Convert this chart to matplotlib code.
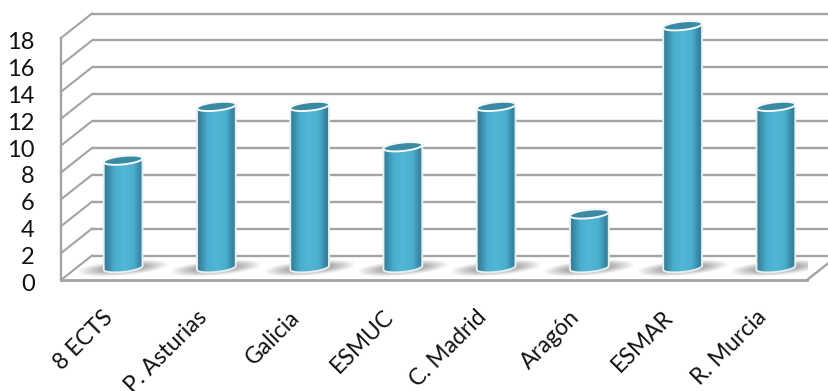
import matplotlib
matplotlib.use('Agg')
import matplotlib.pyplot as plt
import numpy as np
from matplotlib.colors import LinearSegmentedColormap
from matplotlib.patches import Polygon
from matplotlib.transforms import ScaledTranslation

categories = ['8 ECTS', 'P. Asturias', 'Galicia', 'ESMUC', 'C. Madrid', 'Aragón', 'ESMAR', 'R. Murcia']
values = [8, 12, 12, 9, 12, 4, 18, 12]
y_ticks = [0, 2, 4, 6, 8, 10, 12, 14, 16, 18]

W, H = 829, 391
plt.rcParams['font.family'] = ['Lato', 'DejaVu Sans']

fig = plt.figure(figsize=(W / 100, H / 100), dpi=100)
# axes is the front plane of the 3d box, everything else is shifted back from it
ax = fig.add_axes([61 / W, (H - 280) / H, (807 - 61) / W, (280 - 38) / H])
ax.set_xlim(-0.5, 7.5)
ax.set_ylim(0, 18)
for s in ax.spines.values():
    s.set_visible(False)

px_x = 8 / (807 - 61)
px_y = 18 / (280 - 38)
depth_x = 31 * px_x
depth_y = 24.5 * px_y
grid_col = '#a3a3a3'

# walls
for v in y_ticks:
    ax.plot([-0.5 + depth_x, 7.5 + depth_x], [v + depth_y, v + depth_y], color=grid_col, lw=1.7,
            clip_on=False, zorder=1, solid_capstyle='butt')
    ax.plot([-0.5, -0.5 + depth_x], [v, v + depth_y], color=grid_col, lw=1.5, clip_on=False, zorder=1)
ax.plot([-0.5, -0.5], [0, 18], color=grid_col, lw=1.7, clip_on=False, zorder=1)
ax.plot([-0.5, 7.5], [0, 0], color=grid_col, lw=2, clip_on=False, zorder=1)
ax.plot([7.5, 7.5 + depth_x], [0, depth_y], color=grid_col, lw=1.7, clip_on=False, zorder=1)

body_cmap = LinearSegmentedColormap.from_list(
    'body', [(0, '#2f7891'), (0.1, '#3a8ba8'), (0.27, '#4aaecd'), (0.5, '#52b8d8'),
             (0.75, '#4aaecd'), (0.9, '#3a8ba8'), (1, '#2f7a94')])
grad = np.linspace(0, 1, 64).reshape(1, -1)

# soft shadow on the floor, sheared like the floor
yy, xx = np.mgrid[-1:1:80j, -1:1:160j]
shear = xx + yy * 0.5
alpha = np.clip(1 - np.abs(shear) ** 2 - np.abs(yy) ** 2, 0, 1) ** 1.5 * 0.8
shadow = np.zeros((80, 160, 4))
shadow[..., :3] = 0.45
shadow[..., 3] = alpha

half_w = 19.5
minor = 4.2
tilt = np.radians(6)


def ellipse_pts(cx, cy, t):
    dx = half_w * np.cos(t) * np.cos(tilt) - minor * np.sin(t) * np.sin(tilt)
    dy = half_w * np.cos(t) * np.sin(tilt) + minor * np.sin(t) * np.cos(tilt)
    return np.column_stack([cx + dx * px_x, cy + dy * px_y])


for i, v in enumerate(values):
    cx = i + depth_x / 2
    cy0 = depth_y / 2
    cy1 = v + depth_y / 2

    ax.imshow(shadow, extent=(cx - 44 * px_x, cx + 44 * px_x, cy0 - 9 * px_y, cy0 + 9 * px_y),
              aspect='auto', zorder=2, interpolation='bilinear')

    lower = ellipse_pts(cx, cy0, np.linspace(np.pi, 2 * np.pi, 40))
    upper = ellipse_pts(cx, cy1, np.linspace(0, np.pi, 40))
    outline = Polygon(np.vstack([lower, upper]), closed=True, fc='none', ec='#e6eff2', lw=1.4,
                      zorder=4, clip_on=False)
    ax.add_patch(outline)
    im = ax.imshow(grad, cmap=body_cmap, extent=(cx - half_w * px_x, cx + half_w * px_x, cy0 - 6 * px_y, cy1 + 6 * px_y),
                   aspect='auto', zorder=3, interpolation='bilinear')
    im.set_clip_box(fig.bbox)
    im.set_clip_path(outline)

    top = Polygon(ellipse_pts(cx, cy1, np.linspace(0, 2 * np.pi, 80)), closed=True,
                  fc='#3b8aa3', ec='#f4f8f9', lw=1.4, zorder=5, clip_on=False)
    ax.add_patch(top)

ax.set_xlim(-0.5, 7.5)
ax.set_ylim(0, 18)
ax.set_yticks(y_ticks)
ax.set_xticks(range(len(categories)), categories)
ax.tick_params(axis='y', length=0, labelsize=17, pad=19, labelcolor='#111111')
ax.tick_params(axis='x', length=0, labelsize=16.5, pad=19, labelcolor='#111111')
shift = ScaledTranslation(-5 / 100, 0, fig.dpi_scale_trans)
for lab in ax.get_xticklabels():
    lab.set_rotation(45)
    lab.set_ha('right')
    lab.set_rotation_mode('anchor')
    lab.set_transform(lab.get_transform() + shift)
shift_y = ScaledTranslation(0, -2.5 / 100, fig.dpi_scale_trans)
for lab in ax.get_yticklabels():
    lab.set_transform(lab.get_transform() + shift_y)

fig.savefig('out.png', dpi=100)
